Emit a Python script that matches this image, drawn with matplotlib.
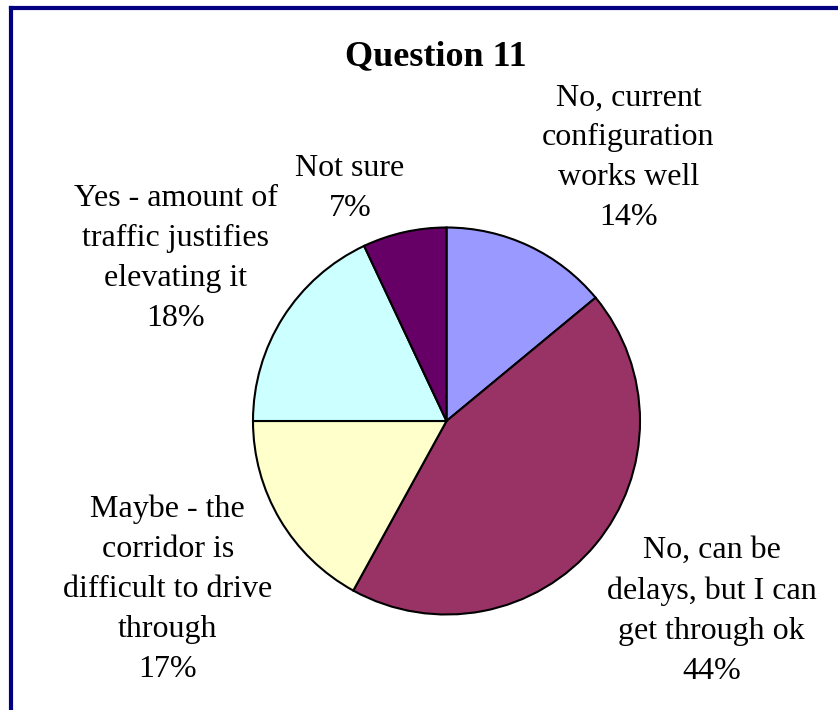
import matplotlib
matplotlib.use("Agg")
import matplotlib.pyplot as plt

# data
labels = [
    "No, current\nconfiguration\nworks well",
    "No, can be\ndelays, but I can\nget through ok",
    "Maybe - the\ncorridor is\ndifficult to drive\nthrough",
    "Yes - amount of\ntraffic justifies\nelevating it",
    "Not sure",
]
values = [14, 44, 17, 18, 7]
colors = ["#9999FF", "#993366", "#FFFFCC", "#CCFFFF", "#660066"]
# label centres in pie-radius units
label_pos = [(0.94, 1.36), (1.37, -0.98), (-1.44, -0.87), (-1.40, 0.84), (-0.50, 1.20)]

W, H = 838, 710
fig = plt.figure(figsize=(W / 100, H / 100), dpi=100)
plt.rcParams["font.family"] = ["Liberation Serif", "DejaVu Serif"]

# frame lines (top and left only)
fig.add_artist(plt.Line2D([11 / W, 11 / W], [0, 1 - 8 / H], color="#000080", lw=3))
fig.add_artist(plt.Line2D([11 / W, 1], [1 - 8 / H, 1 - 8 / H], color="#000080", lw=3))

cx, cy, r = 446.5, 421, 193.5
ax = fig.add_axes([(cx - r) / W, 1 - (cy + r) / H, 2 * r / W, 2 * r / H])
ax.pie(values, colors=colors, startangle=90, counterclock=False, radius=1,
       wedgeprops=dict(edgecolor="black", linewidth=1.5))
ax.set_xlim(-1, 1)
ax.set_ylim(-1, 1)
ax.set_aspect("auto")
ax.axis("off")

for lab, v, (x, y) in zip(labels, values, label_pos):
    ax.text(x, y, f"{lab}\n{v}%", ha="center", va="center", fontsize=23,
            linespacing=1.5, clip_on=False)

fig.text(436 / W, 1 - 57 / H, "Question 11", ha="center", va="center",
         fontsize=26, fontweight="bold")

fig.savefig("out.png", dpi=100)
